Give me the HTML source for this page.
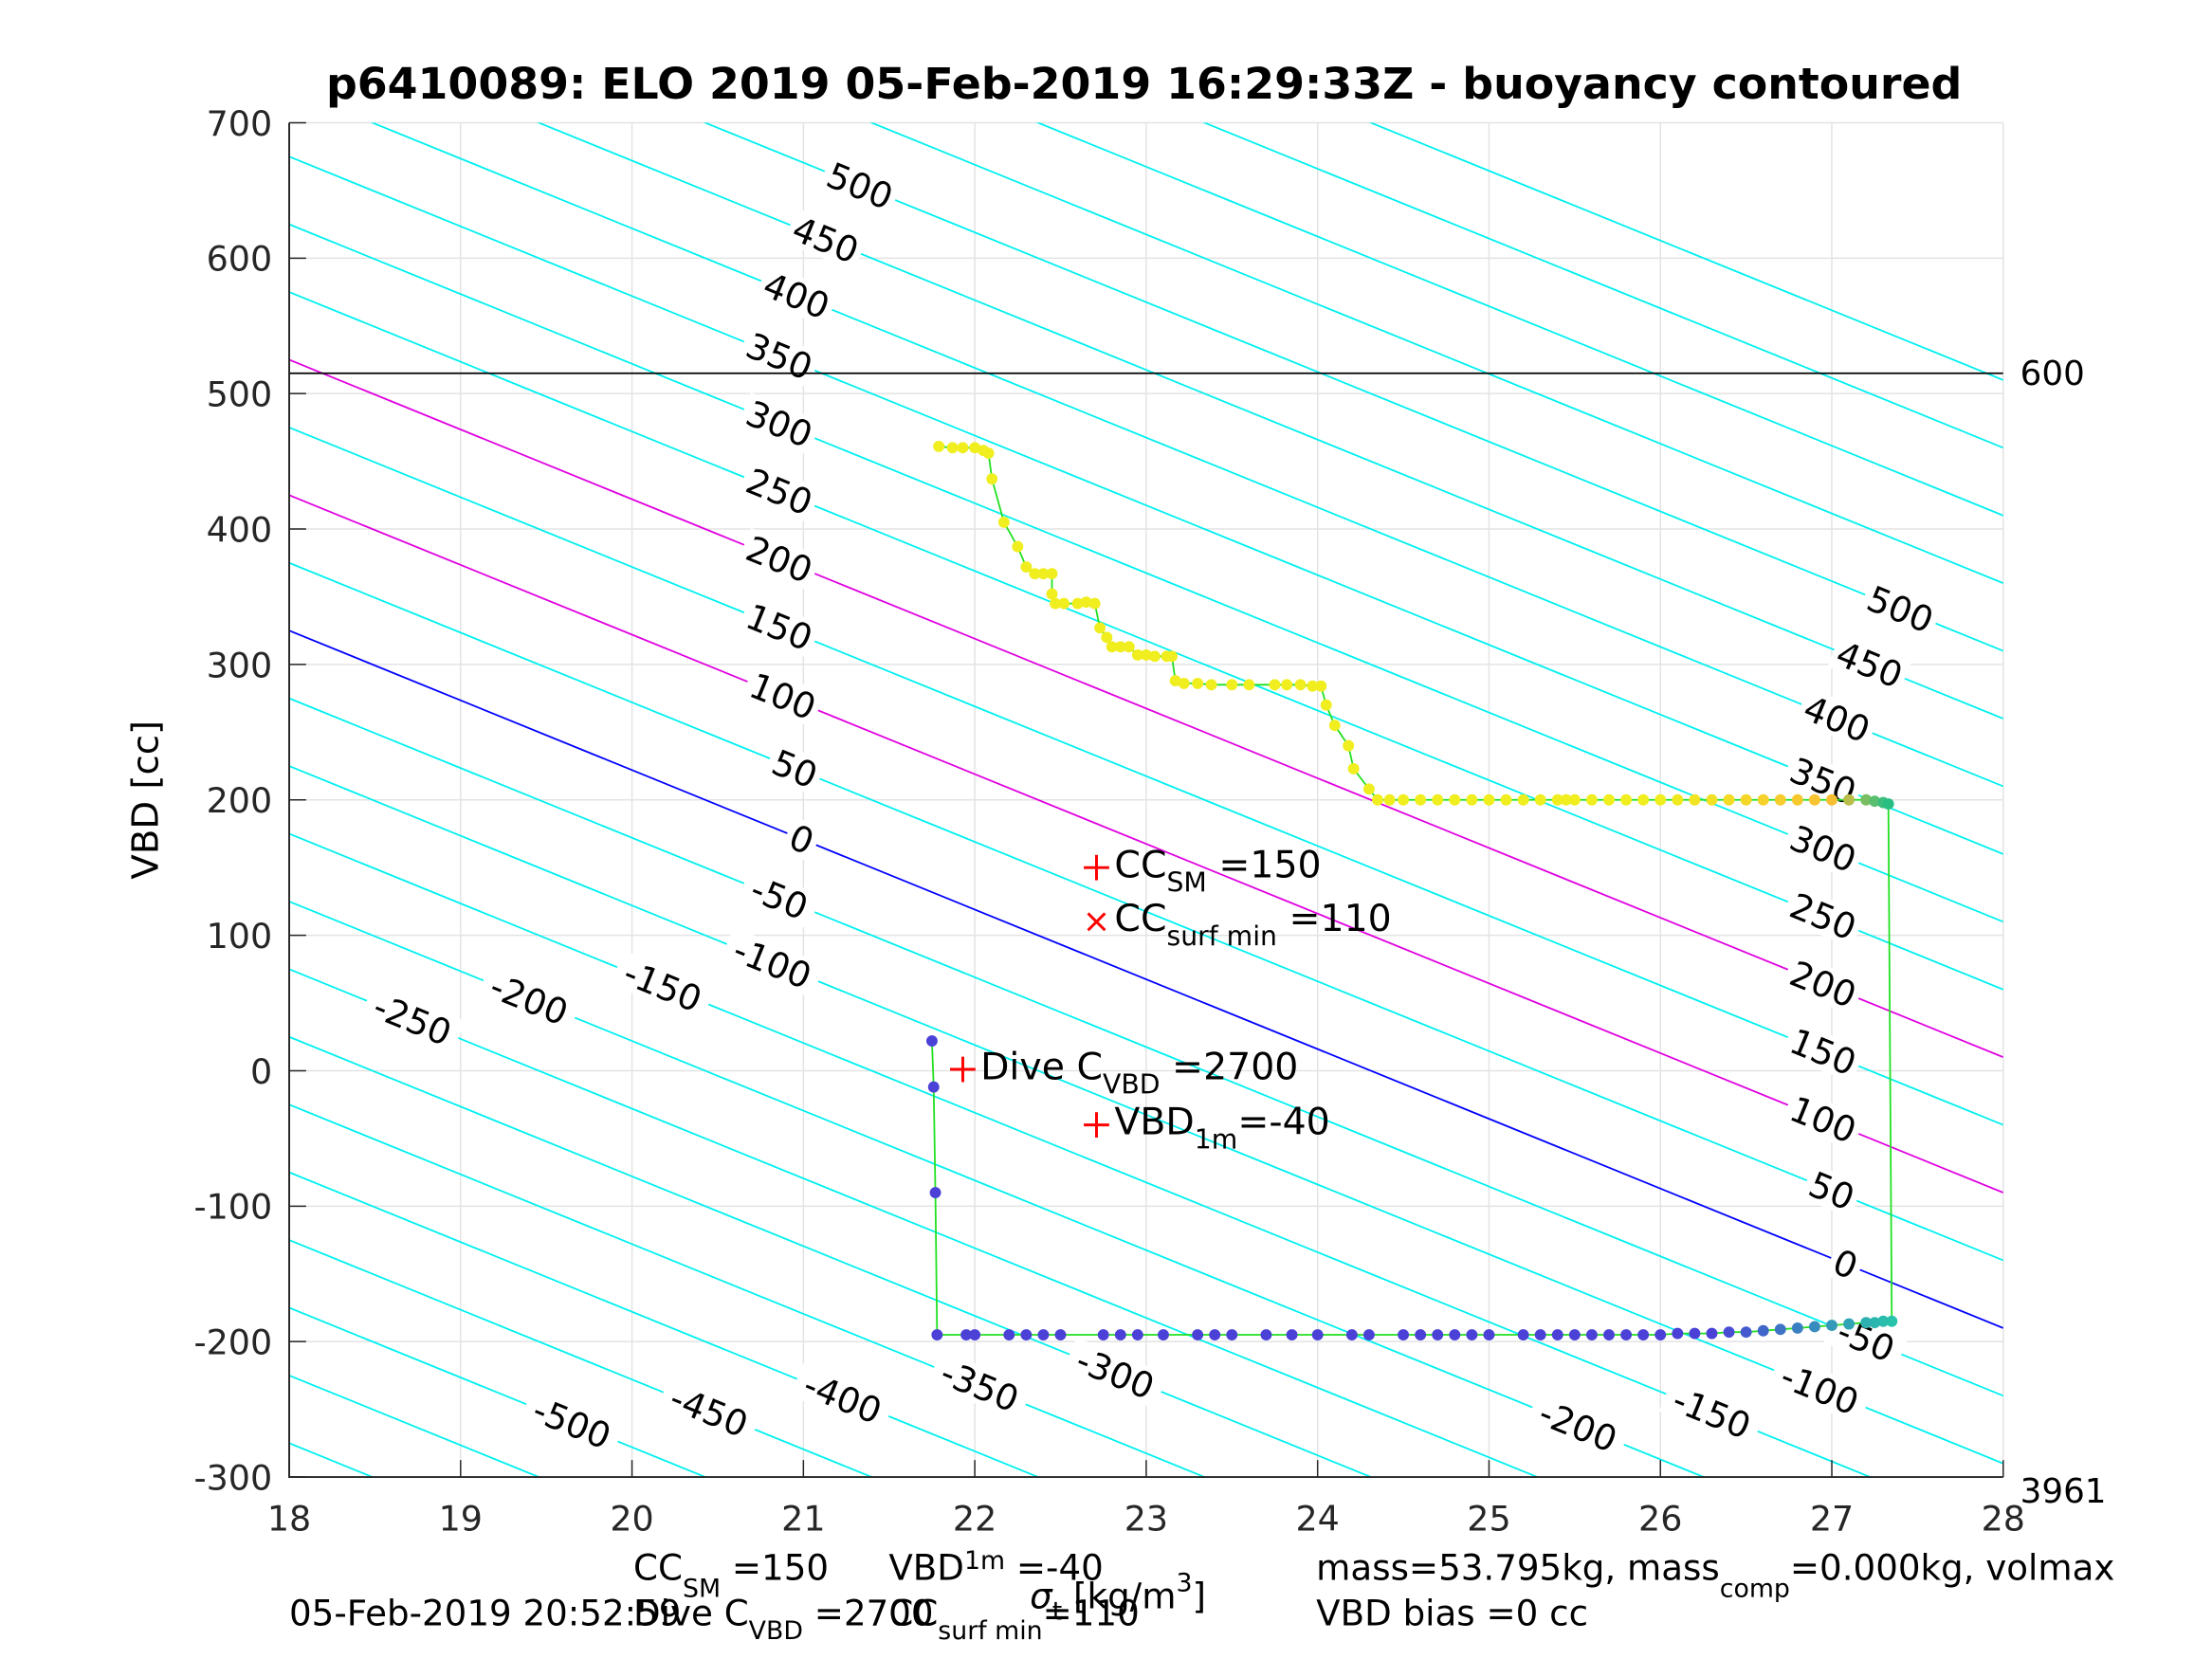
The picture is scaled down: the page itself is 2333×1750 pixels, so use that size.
<!DOCTYPE html>
<html><head><meta charset="utf-8"><style>
html,body{margin:0;padding:0;background:#fff;width:2333px;height:1750px;overflow:hidden}
svg{display:block}
text{font-family:"DejaVu Sans","Liberation Sans",sans-serif}
</style></head><body>
<svg id="chart" width="2333" height="1750" viewBox="0 0 1568 1176" preserveAspectRatio="none" xmlns="http://www.w3.org/2000/svg">
<rect width="1568" height="1176" fill="#fff"/>
<defs><clipPath id="pc"><rect x="205" y="87" width="1215" height="960"/></clipPath></defs>
<g id="grid"></g>
<g id="contours" clip-path="url(#pc)"></g>
<g id="clabels"></g>
<g id="series" clip-path="url(#pc)"></g>
<g id="axes"></g>
<text x="811" y="70" font-size="30.8" font-weight="bold" text-anchor="middle">p6410089: ELO 2019 05-Feb-2019 16:29:33Z - buoyancy contoured</text>
<text transform="translate(112,567) rotate(-90)" font-size="26" text-anchor="middle">VBD [cc]</text>
<text x="1432" y="273" font-size="24">600</text>
<text x="1432" y="1065" font-size="24">3961</text>
<g font-size="26.5">
<text x="790" y="622">CC<tspan font-size="19" dy="10">SM</tspan><tspan dy="-10"> =150</tspan></text>
<text x="790" y="660">CC<tspan font-size="19" dy="10">surf min</tspan><tspan dy="-10"> =110</tspan></text>
<text x="695" y="765">Dive C<tspan font-size="19" dy="10">VBD</tspan><tspan dy="-10"> =2700</tspan></text>
<text x="790" y="804">VBD<tspan font-size="19" dy="10">1m</tspan><tspan dy="-10">=-40</tspan></text>
</g>
<g font-size="25">
<text x="449" y="1120">CC<tspan font-size="18" dy="12">SM</tspan><tspan dy="-12"> =150</tspan></text>
<text x="630" y="1120">VBD<tspan font-size="18" dy="-8">1m</tspan><tspan dy="8"> =-40</tspan></text>
<text x="730" y="1140"><tspan font-style="italic">σ</tspan><tspan font-size="18" dy="8">t</tspan><tspan dy="-8"> [kg/m</tspan><tspan font-size="18" dy="-12">3</tspan><tspan dy="12">]</tspan></text>
<text x="933" y="1120">mass=53.795kg, mass<tspan font-size="18" dy="12">comp</tspan><tspan dy="-12">=0.000kg, volmax</tspan></text>
<text x="205" y="1152">05-Feb-2019 20:52:59</text>
<text x="449" y="1152">Dive C<tspan font-size="18" dy="10">VBD</tspan><tspan dy="-10"> =2700</tspan></text>
<text x="630" y="1152">CC<tspan font-size="18" dy="10">surf min</tspan><tspan dy="-10">=110</tspan></text>
<text x="933" y="1152">VBD bias =0 cc</text>
</g>
</svg>
<script>
const xTicks=[18,19,20,21,22,23,24,25,26,27,28];
const yTicks=[-300,-200,-100,0,100,200,300,400,500,600,700];
const contourLevels=[-750,-700,-650,-600,-550,-500,-450,-400,-350,-300,-250,-200,-150,-100,-50,0,50,100,150,200,250,300,350,400,450,500,550,600,650,700];
const labelLevelsLeft=[500,450,400,350,300,250,200,150,100,50,0,-50,-100,-150,-200,-250];
const labelSigmaLeft=[21.33,21.13,20.96,20.86,20.86,20.86,20.86,20.86,20.88,20.95,20.99,20.86,20.82,20.18,19.4,18.72];
const labelLevelsRight=[500,450,400,350,300,250,200,150,100,50,0,-50,-100,-150,-200];
const labelSigmaRight=[27.4,27.22,27.03,26.95,26.95,26.95,26.95,26.95,26.95,27.0,27.08,27.2,26.93,26.3,25.52];
const labelLevelsBottom=[-500,-450,-400,-350,-300];
const labelSigmaBottom=[19.65,20.45,21.23,22.03,22.82];
const descentSigma=[21.79,21.87,21.93,22.0,22.05,22.08,22.1,22.17,22.25,22.3,22.35,22.4,22.45,22.45,22.47,22.52,22.6,22.65,22.7,22.73,22.77,22.8,22.85,22.9,22.95,23.0,23.05,23.12,23.15,23.17,23.22,23.3,23.38,23.5,23.6,23.75,23.82,23.9,23.97,24.02,24.05,24.1,24.18,24.21,24.3,24.35,24.42,24.5,24.6,24.7,24.8,24.9,25.0,25.1,25.2,25.3,25.4,25.45,25.5,25.6,25.7,25.8,25.9,26.0,26.1,26.2,26.3,26.4,26.5,26.6,26.7,26.8,26.9,27.0,27.1,27.2,27.25,27.3,27.33];
const descentVBD=[461,460,460,460,458,456,437,405,387,372,367,367,367,352,345,345,345,346,345,327,320,313,313,313,307,307,306,306,306,288,286,286,285,285,285,285,285,285,284,284,270,255,240,223,208,200,200,200,200,200,200,200,200,200,200,200,200,200,200,200,200,200,200,200,200,200,200,200,200,200,200,200,200,200,200,200,199,198,197];
const climbSigma=[27.35,27.3,27.25,27.2,27.1,27.0,26.9,26.8,26.7,26.6,26.5,26.4,26.3,26.2,26.1,26.0,25.9,25.8,25.7,25.6,25.5,25.4,25.3,25.2,25.0,24.9,24.8,24.7,24.6,24.5,24.3,24.2,24.0,23.85,23.7,23.5,23.4,23.3,23.1,22.95,22.85,22.75,22.5,22.4,22.3,22.2,22.0,21.95,21.78,21.77,21.76,21.75];
const climbVBD=[-185,-185,-186,-186,-187,-188,-189,-190,-191,-192,-193,-193,-194,-194,-194,-195,-195,-195,-195,-195,-195,-195,-195,-195,-195,-195,-195,-195,-195,-195,-195,-195,-195,-195,-195,-195,-195,-195,-195,-195,-195,-195,-195,-195,-195,-195,-195,-195,-195,-90,-12,22];
const markSigma=[22.71,21.93,22.71];
const markVBD=[150,1,-40];
const ccSurfSigma=[22.71];
const ccSurfVBD=[110];

const X0=205,X1=1420,Y0=87,Y1=1047;
const sx=s=>X0+(s-18)*(X1-X0)/10;
const sy=v=>Y1-(v+300)*(Y1-Y0)/1000;
const contourVBD=(L,s)=>325+L-51.5*(s-18);
const NS='http://www.w3.org/2000/svg';
function mk(tag,attrs,parent){const e=document.createElementNS(NS,tag);for(const k in attrs)e.setAttribute(k,attrs[k]);parent.appendChild(e);return e;}
const grid=document.getElementById('grid'),cont=document.getElementById('contours'),cl=document.getElementById('clabels'),ser=document.getElementById('series'),ax=document.getElementById('axes');

xTicks.forEach(t=>{const l=mk('line',{x1:sx(t),x2:sx(t),y1:Y0,y2:Y1,stroke:'#e3e3e3','stroke-width':1},grid);

});
yTicks.forEach(t=>{const l=mk('line',{x1:X0,x2:X1,y1:sy(t),y2:sy(t),stroke:'#e3e3e3','stroke-width':1},grid);

});

contourLevels.forEach(L=>{
 const col=L===0?'#0000ff':(L===100||L===200)?'#e000e0':'#00f0f0';
 const l=mk('line',{x1:sx(18),y1:sy(contourVBD(L,18)),x2:sx(28),y2:sy(contourVBD(L,28)),stroke:col,'stroke-width':1.2},cont);
 
 
});
const ang=Math.atan(51.5*(Y1-Y0)/1000/((X1-X0)/10))*180/Math.PI;
function addLabels(levels,sigmas){
 levels.forEach((L,i)=>{
  const x=sx(sigmas[i]),y=sy(contourVBD(L,sigmas[i]));
  const g=mk('g',{transform:`translate(${x},${y}) rotate(${ang})`},cl);
  
  
  const w=String(L).length*16+6;
  mk('rect',{x:-w/2,y:-13,width:w,height:26,fill:'#fff'},g);
  const t=mk('text',{x:0,y:9,'font-size':25,'text-anchor':'middle'},g);
  t.textContent=L;
 });
}
addLabels(labelLevelsLeft,labelSigmaLeft);
addLabels(labelLevelsRight,labelSigmaRight);
addLabels(labelLevelsBottom,labelSigmaBottom);

const hl=mk('line',{x1:X0,x2:X1,y1:sy(515),y2:sy(515),stroke:'#000','stroke-width':1.2},ser);



let pts=descentSigma.map((s,i)=>sx(s)+','+sy(descentVBD[i])).concat(climbSigma.map((s,i)=>sx(s)+','+sy(climbVBD[i])));
const pl=mk('polyline',{points:pts.join(' '),fill:'none',stroke:'#20e020','stroke-width':1.2},ser);


function lerpC(a,b,t){return 'rgb('+a.map((v,i)=>Math.round(v+(b[i]-v)*t)).join(',')+')';}
function descColor(s){if(s<26)return 'rgb(240,238,30)';if(s<27)return lerpC([240,238,30],[248,190,50],s-26);return lerpC([248,190,50],[40,190,130],Math.min(1,(s-27)/0.33));}
function climbColor(s){if(s<26.3)return 'rgb(75,65,215)';return lerpC([75,65,215],[40,195,170],Math.min(1,(s-26.3)/1.05));}
descentSigma.forEach((s,i)=>{const c=mk('circle',{cx:sx(s),cy:sy(descentVBD[i]),r:4,fill:descColor(s)},ser);

});
climbSigma.forEach((s,i)=>{const c=mk('circle',{cx:sx(s),cy:sy(climbVBD[i]),r:4,fill:climbColor(s)},ser);

});
markSigma.forEach((s,i)=>{const x=sx(s),y=sy(markVBD[i]);const g=mk('g',{stroke:'#ff0000','stroke-width':2},ser);


mk('line',{x1:x-9,x2:x+9,y1:y,y2:y},g);mk('line',{x1:x,x2:x,y1:y-9,y2:y+9},g);});
ccSurfSigma.forEach((s,i)=>{const x=sx(s),y=sy(ccSurfVBD[i]);const g=mk('g',{stroke:'#ff0000','stroke-width':2},ser);


mk('line',{x1:x-6,x2:x+6,y1:y-6,y2:y+6},g);mk('line',{x1:x-6,x2:x+6,y1:y+6,y2:y-6},g);});

const ab=mk('path',{d:`M${X0},${Y0} V${Y1} H${X1}`,fill:'none',stroke:'#262626','stroke-width':1.3},ax);


xTicks.forEach(t=>{mk('line',{x1:sx(t),x2:sx(t),y1:Y1,y2:Y1-12,stroke:'#262626','stroke-width':1},ax);
const tx=mk('text',{x:sx(t),y:Y1+38,'font-size':24.5,'text-anchor':'middle',fill:'#262626'},ax);tx.textContent=t;

});
yTicks.forEach(t=>{mk('line',{x1:X0,x2:X0+12,y1:sy(t),y2:sy(t),stroke:'#262626','stroke-width':1},ax);
const tx=mk('text',{x:X0-12,y:sy(t)+9,'font-size':24.5,'text-anchor':'end',fill:'#262626'},ax);tx.textContent=t;

});
</script>
</body></html>
